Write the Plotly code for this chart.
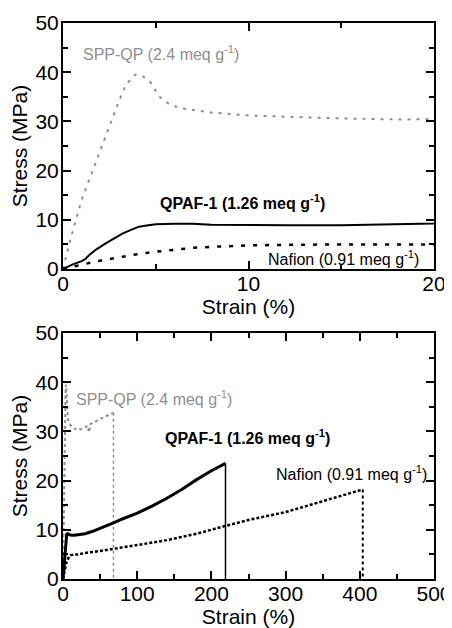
import plotly.graph_objects as go

# ---------------- data ----------------
spp_strain = [0, 0.4, 1.0, 1.5, 2.0, 2.5, 3.0, 3.4, 3.9, 4.3, 4.7, 5.2, 5.8, 6.5, 8, 10, 12, 15, 18, 20,
              25, 30, 33, 35, 37, 45, 55, 68]
spp_stress = [0, 6, 14, 19, 24, 29, 34, 37.5, 39.5, 39.2, 38, 35, 33.3, 32.6, 31.8, 31.2, 30.9, 30.6, 30.4, 30.3,
              30.5, 30.8, 31.2, 29.8, 31.5, 32.2, 32.9, 33.8]

qpaf_strain = [0, 0.5, 1.0, 1.2, 1.4, 1.8, 2.3, 2.8, 3.2, 3.7, 4.1, 4.6, 5.0, 6, 7, 8, 10, 12, 15, 20,
               30, 40, 50, 60, 68, 80, 100, 120, 140, 160, 180, 200, 219]
qpaf_stress = [0, 0.9, 1.6, 2.0, 2.8, 4.0, 5.2, 6.3, 7.2, 8.0, 8.6, 8.9, 9.1, 9.2, 9.2, 9.0, 8.9, 8.9, 8.9, 9.0,
               9.2, 9.7, 10.3, 10.8, 11.4, 12.2, 13.4, 14.8, 16.4, 18.2, 20.2, 22.0, 23.5]

nafion_strain = [0, 0.65, 1.5, 2.3, 3, 4, 5, 6, 7, 8, 10, 12, 15, 20,
                 30, 50, 68, 100, 140, 180, 219, 250, 300, 350, 404]
nafion_stress = [0, 0.6, 1.3, 1.9, 2.4, 3.0, 3.5, 3.9, 4.3, 4.5, 4.8, 4.9, 5.0, 5.0,
                 5.3, 5.7, 6.1, 6.9, 7.9, 9.2, 10.8, 12.0, 13.6, 15.8, 18.2]

labels = {
    "spp": "SPP-QP (2.4 meq g<sup>-1</sup>)",
    "qpaf": "<b>QPAF-1 (1.26 meq g<sup>-1</sup>)</b>",
    "nafion": "Nafion (0.91 meq g<sup>-1</sup>)",
}
y_ticks = [0, 10, 20, 30, 40, 50]
x_ticks_top = [0, 10, 20]
x_ticks_bottom = [0, 100, 200, 300, 400, 500]

GRAY = "#8f8f8f"
FONT = "'Liberation Sans', Arial, sans-serif"

fig = go.Figure()

# ---------------- top panel (x 0-20 %) ----------------
fig.add_trace(go.Scatter(x=spp_strain, y=spp_stress, mode="lines", xaxis="x", yaxis="y",
                         line=dict(color=GRAY, width=2, dash="3px,6px"), showlegend=False))
fig.add_trace(go.Scatter(x=nafion_strain, y=nafion_stress, mode="lines", xaxis="x", yaxis="y",
                         line=dict(color="black", width=2.5, dash="4px,8px"), showlegend=False))
fig.add_trace(go.Scatter(x=qpaf_strain, y=qpaf_stress, mode="lines", xaxis="x", yaxis="y",
                         line=dict(color="black", width=2), showlegend=False))

# ---------------- bottom panel (x 0-500 %) ----------------
fig.add_trace(go.Scatter(x=spp_strain, y=spp_stress, mode="lines", xaxis="x2", yaxis="y2",
                         line=dict(color=GRAY, width=2, dash="3px,3px"), showlegend=False))
fig.add_trace(go.Scatter(x=[spp_strain[-1], spp_strain[-1]], y=[spp_stress[-1], 0], mode="lines",
                         xaxis="x2", yaxis="y2",
                         line=dict(color=GRAY, width=1.5, dash="3px,3px"), showlegend=False))
fig.add_trace(go.Scatter(x=nafion_strain, y=nafion_stress, mode="lines", xaxis="x2", yaxis="y2",
                         line=dict(color="black", width=2.5, dash="3px,2px"), showlegend=False))
fig.add_trace(go.Scatter(x=[nafion_strain[-1], nafion_strain[-1]], y=[nafion_stress[-1], 0], mode="lines",
                         xaxis="x2", yaxis="y2",
                         line=dict(color="black", width=2, dash="3px,3px"), showlegend=False))
fig.add_trace(go.Scatter(x=qpaf_strain, y=qpaf_stress, mode="lines", xaxis="x2", yaxis="y2",
                         line=dict(color="black", width=3), showlegend=False))
fig.add_trace(go.Scatter(x=[qpaf_strain[-1], qpaf_strain[-1]], y=[qpaf_stress[-1], 0], mode="lines",
                         xaxis="x2", yaxis="y2",
                         line=dict(color="black", width=1.5), showlegend=False))

axis_common = dict(
    showline=True, linecolor="black", linewidth=2, mirror="ticks",
    ticks="inside", ticklen=8, tickwidth=2, tickcolor="black",
    showgrid=False, zeroline=False, automargin=False,
    tickfont=dict(family=FONT, size=21, color="black"),
)
minor_y = dict(ticks="inside", ticklen=5, tickwidth=1.5, tickcolor="black", dtick=5)
x_title_font = dict(family=FONT, size=21)

TOP_DOM = [0.5576, 1.0]
BOT_DOM = [0.0, 0.4424]

# the page body has an 8px default margin, so the figure is sized to fit inside the window
fig.update_layout(
    template="none",
    width=444, height=620,
    margin=dict(l=55, r=18, t=15, b=49),
    paper_bgcolor="white", plot_bgcolor="white",
    font=dict(family=FONT, size=16, color="black"),
    xaxis=dict(axis_common, domain=[0, 1], anchor="y", range=[0, 20], tickvals=x_ticks_top,
               minor=dict(minor_y, dtick=5), ticklabelstandoff=-5,
               title=dict(text="Strain (%)", font=x_title_font, standoff=3)),
    yaxis=dict(axis_common, domain=TOP_DOM, anchor="x", range=[0, 50], tickvals=y_ticks,
               minor=minor_y, ticklabelstandoff=-2,
               title=dict(text="Stress (MPa)", font=x_title_font, standoff=3)),
    xaxis2=dict(axis_common, domain=[0, 1], anchor="y2", range=[0, 500], tickvals=x_ticks_bottom,
                minor=dict(minor_y, dtick=50), ticklabelstandoff=-5,
                title=dict(text="Strain (%)", font=x_title_font, standoff=3)),
    yaxis2=dict(axis_common, domain=BOT_DOM, anchor="x2", range=[0, 50], tickvals=y_ticks,
                minor=minor_y, ticklabelstandoff=-2,
                title=dict(text="Stress (MPa)", font=x_title_font, standoff=3)),
)

ann = [
    # top panel
    dict(x=1.08, y=44, xref="x", yref="y", text=labels["spp"], font=dict(color=GRAY, size=16)),
    dict(x=5.23, y=13.6, xref="x", yref="y", text=labels["qpaf"], font=dict(color="black", size=16)),
    dict(x=11.05, y=2.2, xref="x", yref="y", text=labels["nafion"], font=dict(color="black", size=16)),
    # bottom panel
    dict(x=17.5, y=36.8, xref="x2", yref="y2", text=labels["spp"], font=dict(color=GRAY, size=16)),
    dict(x=137.5, y=28.9, xref="x2", yref="y2", text=labels["qpaf"], font=dict(color="black", size=16)),
    dict(x=287, y=21.5, xref="x2", yref="y2", text=labels["nafion"], font=dict(color="black", size=16)),
]
for a in ann:
    a.update(showarrow=False, xanchor="left", yanchor="middle", xshift=-2)
    a["font"]["family"] = FONT
    fig.add_annotation(**a)

fig.write_html("out.html")
